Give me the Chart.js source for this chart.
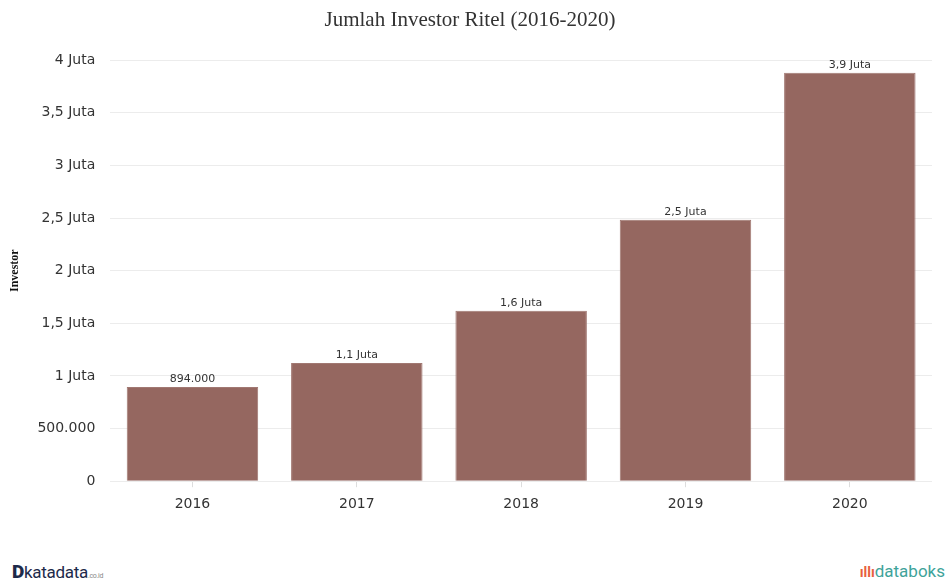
<!DOCTYPE html>
<html>
<head>
<meta charset="utf-8">
<script src="https://cdn.jsdelivr.net/npm/chart.js@4"></script>
<style>
  html, body { margin: 0; padding: 0; background: #fff; }
  #wrap { position: relative; width: 951px; height: 583px; }
  #chart { position: absolute; left: 0; top: 0; }
  .logo-left { position: absolute; left: 12px; top: 560px; font-family: "Roboto", "DejaVu Sans", sans-serif; color: #1d2a4a; font-size: 17px; letter-spacing: -0.3px; }
  .logo-left b { font-size: 19px; font-weight: 900; }
  .logo-left small { font-size: 7px; color: #888; }
  .logo-right { position: absolute; right: 6px; top: 561px; font-family: "Roboto", "DejaVu Sans", sans-serif; font-size: 17px; color: #3ea39a; }
  .logo-right span { color: #e8603c; font-weight: bold; font-size: 14px; }
</style>
</head>
<body>
<div id="wrap">
  <canvas id="chart" width="951" height="545"></canvas>
  <div class="logo-left"><b>D</b>katadata<small>.co.id</small></div>
  <div class="logo-right"><span>ıllı</span>databoks</div>
</div>
<script>
  var years = ['2016', '2017', '2018', '2019', '2020'];
  var investors = [894000, 1122668, 1619372, 2484354, 3880753];
  var valueLabels = ['894.000', '1,1 Juta', '1,6 Juta', '2,5 Juta', '3,9 Juta'];
  var yTickValues = [0, 500000, 1000000, 1500000, 2000000, 2500000, 3000000, 3500000, 4000000];
  var yTickLabels = ['0', '500.000', '1 Juta', '1,5 Juta', '2 Juta', '2,5 Juta', '3 Juta', '3,5 Juta', '4 Juta'];

  var barLabels = {
    id: 'barLabels',
    afterDatasetsDraw: function (chart) {
      var ctx = chart.ctx;
      var meta = chart.getDatasetMeta(0);
      ctx.save();
      ctx.font = '11px "DejaVu Sans", sans-serif';
      ctx.fillStyle = '#333';
      ctx.textAlign = 'center';
      ctx.textBaseline = 'bottom';
      meta.data.forEach(function (bar, i) {
        ctx.fillText(valueLabels[i], bar.x, bar.y - 2);
      });
      ctx.restore();
    }
  };

  new Chart(document.getElementById('chart'), {
    type: 'bar',
    data: {
      labels: years,
      datasets: [{
        data: investors,
        backgroundColor: '#956760',
        borderColor: '#a17872',
        borderWidth: 1,
        barPercentage: 0.8,
        categoryPercentage: 1.0
      }]
    },
    options: {
      responsive: false,
      animation: false,
      layout: { padding: { left: 8, right: 19, top: 0, bottom: 23 } },
      plugins: {
        legend: { display: false },
        tooltip: { enabled: false },
        title: {
          display: true,
          text: 'Jumlah Investor Ritel (2016-2020)',
          color: '#333',
          font: { family: '"Liberation Serif", serif', size: 21, weight: 'normal' },
          padding: { top: 8, bottom: 27 }
        }
      },
      scales: {
        x: {
          grid: { drawOnChartArea: false, drawTicks: true, tickLength: 6, offset: false, color: '#ddd' },
          border: { display: false },
          ticks: { color: '#333', font: { family: '"DejaVu Sans", sans-serif', size: 14 }, padding: 9 }
        },
        y: {
          min: 0,
          max: 4000000,
          afterBuildTicks: function (axis) {
            axis.ticks = yTickValues.map(function (v) { return { value: v }; });
          },
          grid: { color: '#ececec', drawTicks: false },
          border: { display: false },
          ticks: {
            color: '#333',
            font: { family: '"DejaVu Sans", sans-serif', size: 14 },
            padding: 15,
            callback: function (v, i) { return yTickLabels[i]; }
          },
          title: {
            display: true,
            text: 'Investor',
            color: '#111',
            font: { family: '"Liberation Serif", serif', size: 12, weight: 'bold' },
            padding: { top: 0, bottom: 0 }
          }
        }
      }
    },
    plugins: [barLabels]
  });
</script>
</body>
</html>
